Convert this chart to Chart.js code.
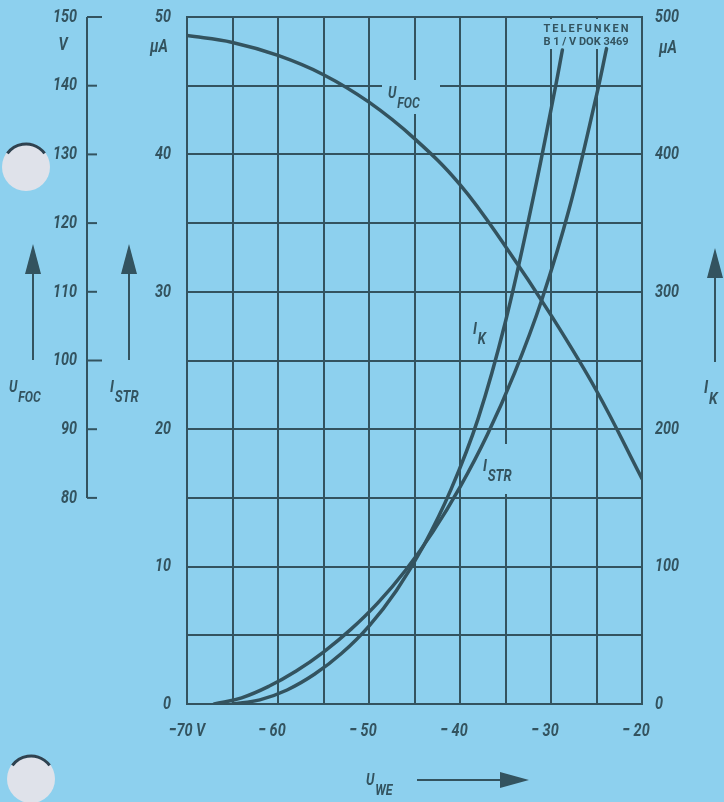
<!DOCTYPE html>
<html>
<head>
<meta charset="utf-8">
<title>Telefunken B1/V DOK 3469</title>
<script src="https://cdn.jsdelivr.net/npm/chart.js@4.4.1/dist/chart.umd.min.js"></script>
<style>
  html, body { margin: 0; padding: 0; background: #8dd0ee; }
  #wrap { width: 724px; height: 802px; position: relative; }
</style>
</head>
<body>
<div id="wrap"><canvas id="myChart" width="724" height="802"></canvas></div>
<script>
'use strict';

// U_WE in V for the focus voltage curve
let uweFoc = [-70, -65, -60, -55, -50, -45, -40, -35, -30, -25, -20];
// U_FOC in V (outer left scale, 80...150 V)
let uFoc = [147.3, 146.3, 144.4, 141.6, 137.6, 132.3, 125.6, 116.6, 106.6, 95.6, 82.8];

// U_WE in V for the beam current curve
let uweStr = [-67, -64, -61, -58, -55, -52, -49, -46, -43, -40, -37, -34, -31, -28, -25, -23.9];
// I_STR in uA (left scale, 0...50)
let iStr = [0, 0.45, 1.29, 2.4, 3.78, 5.43, 7.38, 9.72, 12.51, 15.78, 19.59, 24.1, 29.44, 36.04, 44.3, 47.7];

// U_WE in V for the cathode current curve
let uweK = [-65, -62, -59, -56, -53, -50, -47, -44, -41, -38, -35, -32, -29.5, -28.75];
// I_K in uA (right scale, 0...500)
let iK = [0, 3, 10.2, 21.6, 36.9, 56.7, 82.5, 115.2, 156, 207.9, 278.4, 366.9, 449.4, 476];

// labelled ticks
let xTicks = [-70, -60, -50, -40, -30, -20];
let strTicks = [0, 10, 20, 30, 40, 50];
let kTicks = [0, 100, 200, 300, 400, 500];
let focTicks = [80, 90, 100, 110, 120, 130, 140, 150];

let ink = '#33535f';
let paper = '#8dd0ee';
let labelFont = "italic bold 19px Roboto, 'DejaVu Sans', sans-serif";
let nameFont = "Roboto, 'DejaVu Sans', sans-serif";

function toPoints(xs, ys){
  let pts = [];
  for(let i = 0; i < xs.length; i++){
    pts.push({x: xs[i], y: ys[i]});
  }
  return pts;
}

// narrow italic numbers like on the printed sheet
function drawNarrow(ctx, text, x, y, align){
  ctx.save();
  ctx.translate(x, y);
  ctx.scale(0.76, 1);
  ctx.font = labelFont;
  ctx.textAlign = align;
  ctx.textBaseline = 'middle';
  ctx.fillText(text, 0, 0);
  ctx.restore();
}

// letter with a subscript, e.g. U with FOC
function drawSub(ctx, main, sub, x, y, size){
  ctx.save();
  ctx.translate(x, y);
  ctx.scale(0.82, 1);
  ctx.font = 'italic bold ' + size + 'px ' + nameFont;
  ctx.textAlign = 'left';
  ctx.textBaseline = 'alphabetic';
  ctx.fillText(main, 0, 0);
  let w = ctx.measureText(main).width;
  ctx.font = 'italic bold ' + (size - 1) + 'px ' + nameFont;
  ctx.fillText(sub, w + 1, size * 0.6);
  ctx.restore();
}

function drawArrowUp(ctx, x, yTop, yBottom){
  ctx.beginPath();
  ctx.moveTo(x, yBottom);
  ctx.lineTo(x, yTop + 25);
  ctx.stroke();
  ctx.beginPath();
  ctx.moveTo(x, yTop);
  ctx.lineTo(x - 8, yTop + 30);
  ctx.lineTo(x + 8, yTop + 30);
  ctx.closePath();
  ctx.fill();
}

function drawHole(ctx, cx, cy, r){
  ctx.save();
  ctx.fillStyle = '#dfe2ea';
  ctx.beginPath();
  ctx.arc(cx, cy, r, 0, Math.PI * 2);
  ctx.fill();
  ctx.strokeStyle = '#2f4250';
  ctx.lineWidth = 3;
  ctx.beginPath();
  ctx.arc(cx, cy, r - 1, Math.PI * 1.2, Math.PI * 1.8);
  ctx.stroke();
  ctx.restore();
}

// extra scale, tick labels, arrows, names and the punched holes
let sheetPlugin = {
  id: 'sheet',
  beforeDatasetsDraw(chart){
    let ctx = chart.ctx;
    ctx.save();
    // clear grid behind curve names and imprint
    ctx.fillStyle = paper;
    ctx.fillRect(382, 80, 58, 34);
    ctx.fillRect(469, 316, 24, 32);
    ctx.fillRect(480, 444, 40, 50);
    ctx.fillRect(538, 19, 99, 30);
    ctx.fillStyle = ink;
    drawSub(ctx, 'U', 'FOC', 388, 98, 16);
    drawSub(ctx, 'I', 'K', 473, 334, 17);
    drawSub(ctx, 'I', 'STR', 483, 471, 17);
    ctx.font = 'bold 11px ' + nameFont;
    ctx.textAlign = 'center';
    ctx.textBaseline = 'alphabetic';
    ctx.letterSpacing = '2px';
    ctx.fillText('TELEFUNKEN', 587, 32);
    ctx.letterSpacing = '0px';
    ctx.fillText('B 1 / V DOK 3469', 586, 45);
    ctx.restore();
  },
  afterDraw(chart){
    let ctx = chart.ctx;
    let x = chart.scales.x;
    let foc = chart.scales.yFoc;
    let y = chart.scales.y;
    let yK = chart.scales.yK;
    ctx.save();
    ctx.strokeStyle = ink;
    ctx.fillStyle = ink;
    ctx.lineWidth = 2;

    // tick labels of the three chart axes
    for(let i = 0; i < xTicks.length; i++){
      let v = xTicks[i];
      let txt = v === -70 ? '\u221270 V' : '\u2212 ' + Math.abs(v);
      drawNarrow(ctx, txt, x.getPixelForValue(v) - (v === -70 ? 0 : 6), 731, 'center');
    }
    for(let i = 0; i < strTicks.length; i++){
      drawNarrow(ctx, String(strTicks[i]), 171, y.getPixelForValue(strTicks[i]), 'right');
    }
    for(let i = 0; i < kTicks.length; i++){
      drawNarrow(ctx, String(kTicks[i]), 655, yK.getPixelForValue(kTicks[i]), 'left');
    }

    // U_FOC scale
    let axX = 87;
    ctx.beginPath();
    ctx.moveTo(axX, foc.getPixelForValue(150));
    ctx.lineTo(axX, foc.getPixelForValue(80));
    ctx.stroke();
    for(let i = 0; i < focTicks.length; i++){
      let v = focTicks[i];
      let py = foc.getPixelForValue(v);
      let len = (v === 150 || v === 100) ? 15 : 10;
      ctx.beginPath();
      ctx.moveTo(axX, py);
      ctx.lineTo(axX + len, py);
      ctx.stroke();
      drawNarrow(ctx, String(v), 77, py, 'right');
    }

    // units
    drawNarrow(ctx, 'V', 63, foc.getPixelForValue(150) + 28, 'center');
    drawNarrow(ctx, '\u00b5A', 159, y.getPixelForValue(50) + 30, 'center');
    drawNarrow(ctx, '\u00b5A', 668, yK.getPixelForValue(500) + 31, 'center');

    // axis arrows and names
    drawArrowUp(ctx, 33, 244, 360);
    drawArrowUp(ctx, 129, 244, 360);
    drawArrowUp(ctx, 715, 248, 362);
    drawSub(ctx, 'U', 'FOC', 9, 392, 16);
    drawSub(ctx, 'I', 'STR', 110, 392, 17);
    drawSub(ctx, 'I', 'K', 704, 393, 18);

    drawSub(ctx, 'U', 'WE', 366, 785, 16);
    ctx.beginPath();
    ctx.moveTo(417, 780);
    ctx.lineTo(505, 780);
    ctx.stroke();
    ctx.beginPath();
    ctx.moveTo(529, 780);
    ctx.lineTo(500, 772);
    ctx.lineTo(500, 788);
    ctx.closePath();
    ctx.fill();

    drawHole(ctx, 26, 167, 24);
    drawHole(ctx, 31, 779, 24);
    ctx.restore();
  }
};

const ctx = document.getElementById('myChart');

new Chart(ctx, {
  type: 'line',
  data: {
    datasets: [{
      label: 'U_FOC',
      data: toPoints(uweFoc, uFoc),
      yAxisID: 'yFoc'
    },
    {
      label: 'I_STR',
      data: toPoints(uweStr, iStr),
      yAxisID: 'y'
    },
    {
      label: 'I_K',
      data: toPoints(uweK, iK),
      yAxisID: 'yK'
    }]
  },
  options: {
    responsive: false,
    animation: false,
    layout: { padding: { top: 17, left: 0, right: 0, bottom: 0 } },
    elements: {
      line: { borderColor: ink, borderWidth: 3.5, tension: 0.4, fill: false, borderCapStyle: 'round' },
      point: { radius: 0 }
    },
    plugins: {
      legend: { display: false },
      tooltip: { enabled: false }
    },
    scales: {
      x: {
        type: 'linear',
        min: -70,
        max: -20,
        afterFit: (scale) => { scale.height = 98; },
        ticks: { display: false, stepSize: 5 },
        grid: { color: ink, lineWidth: 2, drawTicks: false },
        border: { color: ink, width: 2 }
      },
      y: {
        position: 'left',
        min: 0,
        max: 50,
        afterFit: (scale) => { scale.width = 187; },
        ticks: { display: false, stepSize: 5 },
        grid: { color: ink, lineWidth: 2, drawTicks: false },
        border: { color: ink, width: 2 }
      },
      yFoc: {
        display: false,
        position: 'left',
        min: 50,
        max: 150
      },
      yK: {
        position: 'right',
        min: 0,
        max: 500,
        afterFit: (scale) => { scale.width = 82; },
        ticks: { display: false, stepSize: 100 },
        grid: { display: false, drawTicks: false },
        border: { color: ink, width: 2 }
      }
    }
  },
  plugins: [sheetPlugin]
});
</script>
</body>
</html>
